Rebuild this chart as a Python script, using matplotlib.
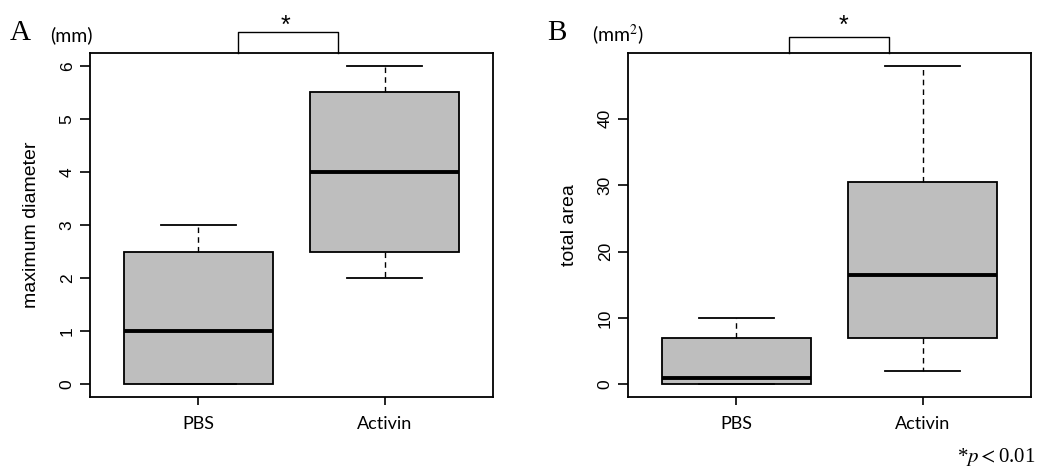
import matplotlib
matplotlib.use('Agg')
import matplotlib.pyplot as plt

# data (boxplot summary stats)
groups = ['PBS', 'Activin']

diam_lo = [0, 2]
diam_q1 = [0, 2.5]
diam_med = [1, 4]
diam_q3 = [2.5, 5.5]
diam_hi = [3, 6]

area_lo = [0, 2]
area_q1 = [0, 7]
area_med = [1, 16.5]
area_q3 = [7, 30.5]
area_hi = [10, 48]

plt.rcParams['mathtext.fontset'] = 'stix'

BOX_FILL = '#bebebe'


def makeStats(lo, q1, med, q3, hi):
    stats = []
    for i in range(len(groups)):
        stats.append({'whislo': lo[i], 'q1': q1[i], 'med': med[i],
                      'q3': q3[i], 'whishi': hi[i], 'fliers': []})
    return stats


def drawBoxes(ax, stats, ymax, yticks, ylabel, labelpad):
    ax.bxp(stats, positions=[1, 2], widths=0.8, capwidths=0.4,
           patch_artist=True, showfliers=False,
           boxprops=dict(facecolor=BOX_FILL, edgecolor='black', linewidth=1.3),
           medianprops=dict(color='black', linewidth=2.8, solid_capstyle='butt'),
           whiskerprops=dict(color='black', linewidth=1.0, linestyle=(0, (4, 3))),
           capprops=dict(color='black', linewidth=1.3))
    pad = 0.04 * ymax
    ax.set_ylim(-pad, ymax + pad)
    ax.set_xlim(0.42, 2.58)
    ax.set_yticks(yticks)
    ax.set_yticklabels([str(t) for t in yticks], rotation=90, va='center',
                       fontsize=12.5, family='Liberation Sans')
    ax.set_xticks([1, 2])
    ax.set_xticklabels(groups, fontsize=13, family='Lato')
    ax.tick_params(axis='y', length=7, width=1.2, pad=4)
    ax.tick_params(axis='x', length=6, width=1.2, pad=8)
    ax.set_ylabel(ylabel, fontsize=14, family='Liberation Sans',
                  labelpad=labelpad)
    for s in ax.spines.values():
        s.set_linewidth(1.3)


def drawBracket(ax, x0, x1, top, starx, stary):
    ax.plot([x0, x0, x1, x1], [1.0, top, top, 1.0], color='black',
            linewidth=1.0, transform=ax.transAxes, clip_on=False)
    ax.text(starx, stary, '*', transform=ax.transAxes, ha='center',
            va='center', fontsize=18, family='Liberation Sans')


fig = plt.figure(figsize=(10.38, 4.68), dpi=100)
axA = fig.add_axes([90 / 1038, 71 / 468, 403 / 1038, 344 / 468])
axB = fig.add_axes([628 / 1038, 71 / 468, 403 / 1038, 344 / 468])

drawBoxes(axA, makeStats(diam_lo, diam_q1, diam_med, diam_q3, diam_hi),
          6, [0, 1, 2, 3, 4, 5, 6], 'maximum diameter', 14)
drawBoxes(axB, makeStats(area_lo, area_q1, area_med, area_q3, area_hi),
          48, [0, 10, 20, 30, 40], 'total area', 14)

drawBracket(axA, (238 - 90) / 403, (338 - 90) / 403, 1.061,
            (285 - 90) / 403, (397 - 26) / 344)
drawBracket(axB, (789 - 628) / 403, (889 - 628) / 403, 1.047,
            (843 - 628) / 403, (397 - 26) / 344)

fig.text(10 / 1038, 1 - 33 / 468, 'A', fontsize=21, family='Liberation Serif',
         va='center')
fig.text(50 / 1038, 1 - 35 / 468, '(mm)', fontsize=14, family='Lato', va='center')
fig.text(547 / 1038, 1 - 33 / 468, 'B', fontsize=21, family='Liberation Serif',
         va='center')
fig.text(592 / 1038, 1 - 35 / 468, '(mm$^2$)', fontsize=14, family='Lato',
         va='center')
fig.text(1036 / 1038, 1 - 457 / 468, r'*$p<$0.01', fontsize=15,
         family='Liberation Serif', ha='right', va='center')

fig.savefig('out.png', dpi=100)
